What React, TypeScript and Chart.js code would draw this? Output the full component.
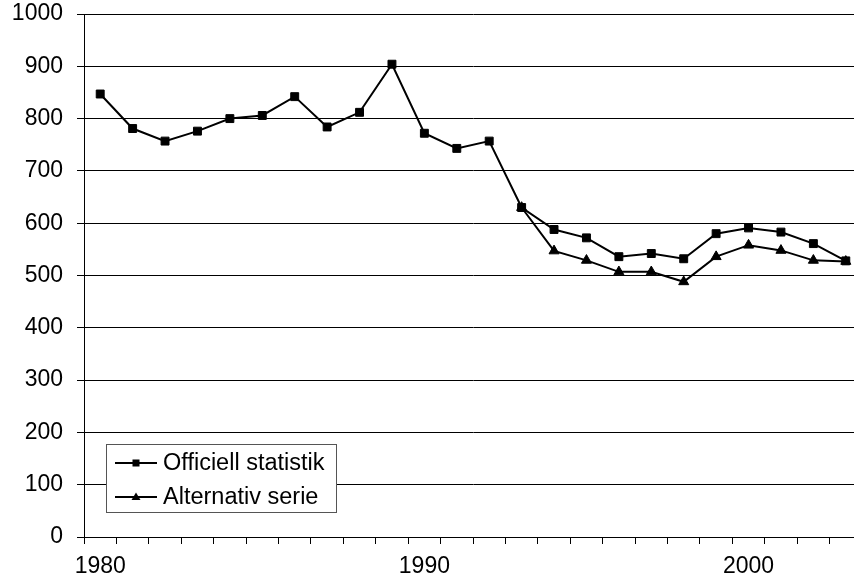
import React, { useEffect, useRef } from "react";
import { Chart, registerables } from "chart.js";

Chart.register(...registerables);

const years = [
  "1980", "1981", "1982", "1983", "1984", "1985", "1986", "1987", "1988", "1989",
  "1990", "1991", "1992", "1993", "1994", "1995", "1996", "1997", "1998", "1999",
  "2000", "2001", "2002", "2003",
];

const officiell = [
  847, 781, 757, 776, 800, 806, 842, 784, 812, 904,
  772, 743, 757, 630, 588, 572, 536, 542, 532, 580,
  591, 583, 561, 528,
];

const alternativ = [
  null, null, null, null, null, null, null, null, null, null,
  null, null, null, 630, 547, 529, 507, 507, 488, 536,
  558, 548, 529, 527,
];

const seriesNames = ["Officiell statistik", "Alternativ serie"];
const yTicks = [0, 100, 200, 300, 400, 500, 600, 700, 800, 900, 1000];
const labelledYears = ["1980", "1990", "2000"];

const FONT = "'Liberation Sans', Arial, sans-serif";

const legendPlugin = {
  id: "insideLegend",
  afterDraw(chart: any) {
    const { ctx, chartArea } = chart;
    const boxLeft = chartArea.left + 22;
    const boxTop = chartArea.bottom - 93;
    const boxW = 230;
    const boxH = 68;
    ctx.save();
    ctx.fillStyle = "#ffffff";
    ctx.fillRect(boxLeft, boxTop, boxW, boxH);
    ctx.strokeStyle = "#555555";
    ctx.lineWidth = 1;
    ctx.strokeRect(boxLeft + 0.5, boxTop + 0.5, boxW, boxH);
    const rows = [boxTop + 19, boxTop + 53];
    seriesNames.forEach((name, i) => {
      const y = rows[i];
      const x0 = boxLeft + 9;
      const x1 = boxLeft + 51;
      const cx = (x0 + x1) / 2;
      ctx.strokeStyle = "#000";
      ctx.lineWidth = 1.8;
      ctx.beginPath();
      ctx.moveTo(x0, y);
      ctx.lineTo(x1, y);
      ctx.stroke();
      ctx.fillStyle = "#000";
      if (i === 0) {
        ctx.fillRect(cx - 3.5, y - 3.5, 7, 7);
      } else {
        ctx.beginPath();
        ctx.moveTo(cx, y - 4.5);
        ctx.lineTo(cx + 4.5, y + 3);
        ctx.lineTo(cx - 4.5, y + 3);
        ctx.closePath();
        ctx.fill();
      }
      ctx.font = `23.5px ${FONT}`;
      ctx.textBaseline = "middle";
      ctx.textAlign = "left";
      ctx.fillText(name, boxLeft + 57, y + 1);
    });
    ctx.restore();
  },
};

export default function App() {
  const canvasRef = useRef<HTMLCanvasElement | null>(null);

  useEffect(() => {
    if (!canvasRef.current) return;
    const chart = new Chart(canvasRef.current, {
      type: "line",
      data: {
        labels: years,
        datasets: [
          {
            label: seriesNames[0],
            data: officiell,
            borderColor: "#000",
            backgroundColor: "#000",
            borderWidth: 2,
            pointStyle: "rect",
            pointRadius: 5.6,
            pointBorderWidth: 1,
            pointBackgroundColor: "#000",
            pointBorderColor: "#000",
            tension: 0,
          },
          {
            label: seriesNames[1],
            data: alternativ,
            borderColor: "#000",
            backgroundColor: "#000",
            borderWidth: 2,
            pointStyle: "triangle",
            pointRadius: 5.8,
            pointBorderWidth: 1,
            pointBackgroundColor: "#000",
            pointBorderColor: "#000",
            tension: 0,
          },
        ],
      },
      options: {
        animation: false,
        responsive: false,
        maintainAspectRatio: false,
        layout: { padding: { left: 0, right: 8, top: 14, bottom: 0 } },
        plugins: {
          legend: { display: false },
          tooltip: { enabled: false },
        },
        scales: {
          x: {
            type: "category",
            offset: true,
            grid: {
              offset: true,
              drawOnChartArea: false,
              drawTicks: true,
              tickLength: 7,
              color: "#000",
              lineWidth: 1,
            },
            border: { display: true, color: "#000", width: 1 },
            ticks: {
              autoSkip: false,
              maxRotation: 0,
              minRotation: 0,
              padding: 9,
              color: "#000",
              font: { family: FONT, size: 23 },
              callback: function (this: any, value: any) {
                const lab = this.getLabelForValue(value);
                return labelledYears.includes(lab) ? lab : "";
              },
            },
            afterFit: (axis: any) => {
              axis.height = 45;
              axis.paddingLeft = 0;
              axis.paddingRight = 0;
            },
          },
          y: {
            min: 0,
            max: 1000,
            afterBuildTicks: (axis: any) => {
              axis.ticks = yTicks.map((v) => ({ value: v }));
            },
            grid: {
              drawOnChartArea: true,
              drawTicks: true,
              tickLength: 7,
              color: "#000",
              lineWidth: 1,
            },
            border: { display: true, color: "#000", width: 1 },
            ticks: {
              padding: 14,
              color: "#000",
              font: { family: FONT, size: 23 },
              callback: (value: any) => String(value),
            },
            afterFit: (axis: any) => {
              axis.width = 84;
              axis.paddingTop = 0;
              axis.paddingBottom = 0;
            },
          },
        },
      },
      plugins: [legendPlugin],
    });
    return () => chart.destroy();
  }, []);

  return (
    <div
      style={{
        position: "fixed",
        left: 0,
        top: 0,
        width: 854,
        height: 582,
        overflow: "hidden",
        background: "#fff",
      }}
    >
      <canvas
        ref={canvasRef}
        width={870}
        height={582}
        style={{ display: "block", width: 870, height: 582 }}
      />
    </div>
  );
}
